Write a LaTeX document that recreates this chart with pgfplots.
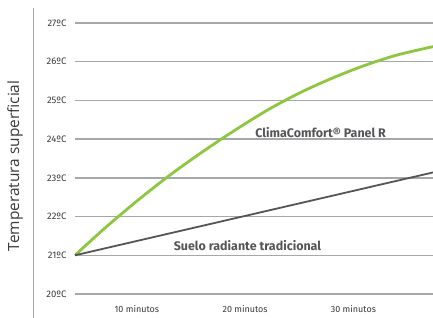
\documentclass[border=0pt]{standalone}
\usepackage{fontspec}
\setmainfont{Fira Sans}
\newfontfamily\labelfont{Open Sans}
\usepackage{pgfplots}
\pgfplotsset{compat=1.18}
\definecolor{cgreen}{HTML}{8DC63F}
\definecolor{cdark}{HTML}{555557}
\definecolor{cgrid}{HTML}{A5A7AA}
\definecolor{ctext}{HTML}{3A3A3C}
\begin{document}
\begin{tikzpicture}
\path[use as bounding box] (-75bp,-24bp) rectangle (358bp,294bp);
\begin{axis}[
  scale only axis,
  width=358bp, height=271bp,
  xmin=4.29, xmax=37.35,
  ymin=20, ymax=27,
  axis line style={draw=none},
  major tick length=0pt,
  ytick={20,21,22,23,24,25,26,27},
  yticklabels={20ºC,21ºC,22ºC,23ºC,24ºC,25ºC,26ºC,27ºC},
  xtick={10,20,30},
  xticklabels={10 minutos,20 minutos,30 minutos},
  ymajorgrids,
  grid style={cgrid, line width=1.3bp},
  yticklabel style={font=\fontsize{9.5}{11}\selectfont, text=ctext, xshift=-5bp},
  xticklabel style={font=\fontsize{9}{11}\selectfont, text=ctext, yshift=-8bp},
  clip=false,
]
\addplot[cgreen, line width=2.8bp, smooth, tension=0.5] coordinates {
(4.29,21.00) (7,21.69) (10,22.40) (13,23.06) (16,23.66) (19,24.22)
(22,24.74) (25,25.19) (28,25.57) (31,25.90) (34,26.17) (37.35,26.39)
};
\addplot[cdark, line width=1.8bp] coordinates {
(4.29,21.00) (37.35,23.14)
};
\node[font=\fontsize{12.5}{14}\selectfont\bfseries, text=cdark] at (axis cs:26.97,24.18) {ClimaComfort® Panel R};
\node[font=\fontsize{12.5}{14}\selectfont\bfseries, text=cdark] at (axis cs:20.22,21.26) {Suelo radiante tradicional};
\end{axis}
\draw[cgrid, line width=0.8bp] (-42bp,-24bp) -- (-42bp,286bp);
\node[rotate=90, font=\labelfont\fontsize{15.5}{17}\selectfont, text=ctext] at (-60bp,128bp) {Temperatura superficial};
\end{tikzpicture}
\end{document}
